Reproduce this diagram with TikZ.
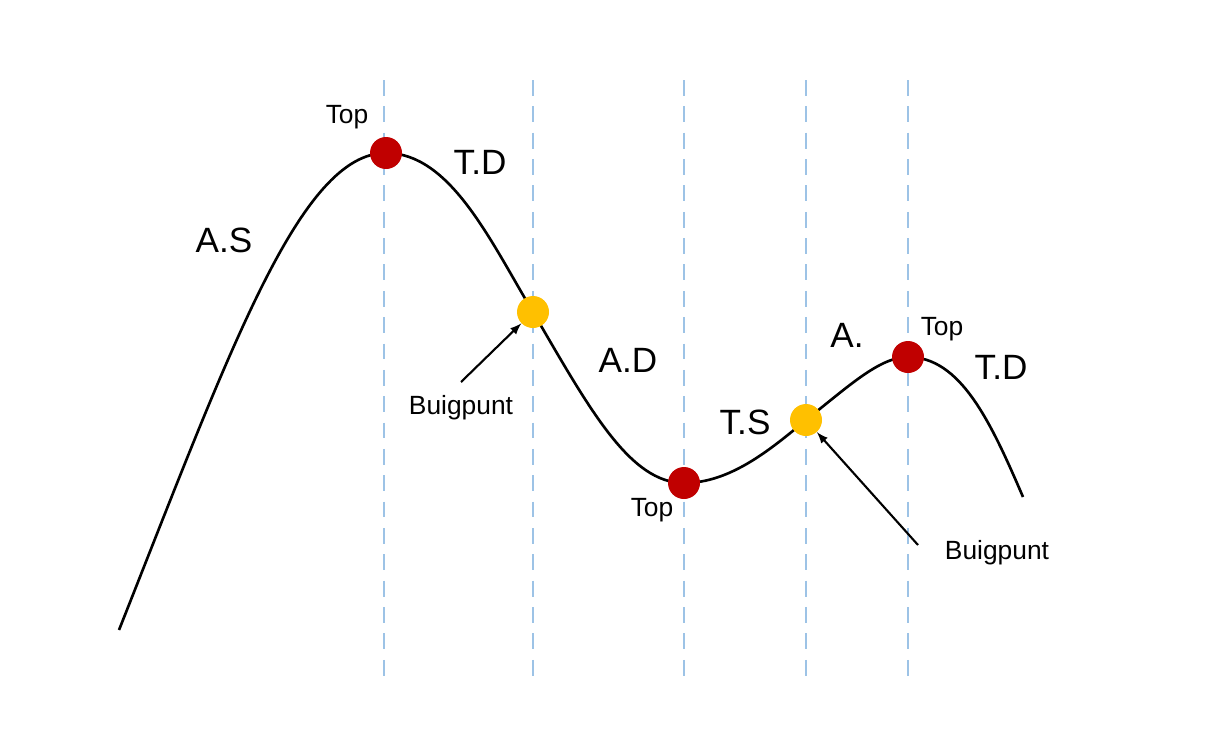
\documentclass[tikz,border=0pt]{standalone}
\usepackage{fontspec}
\setmainfont{Liberation Sans}
\definecolor{mydash}{RGB}{157, 195, 230}
\definecolor{myred}{RGB}{192, 0, 0}
\definecolor{myyellow}{RGB}{255, 192, 0}
\begin{document}
\begin{tikzpicture}[x=0.02cm, y=-0.02cm,
    big/.style={font=\fontsize{20}{24}\selectfont},
    small/.style={font=\fontsize{15}{18}\selectfont},
    dot/.style={circle, minimum size=0.64cm, inner sep=0pt}]
        \useasboundingbox (0,0) rectangle (1212,754);
        % Dashed guides
        \foreach \x in {384,533,684,806,908}
            \draw[mydash, line width=1.5pt, dash pattern=on 9pt off 6pt] (\x,80) -- (\x,680);
        
        % Curve
        \draw[line width=1.5pt] (119,630) .. controls (230,350) and (300,153) .. (386,153)
            .. controls (450,153) and (490,240) .. (533,312)
            .. controls (590,410) and (630,483) .. (684,483)
            .. controls (730,483) and (770,450) .. (806,420)
            .. controls (850,385) and (880,357) .. (908,357)
            .. controls (960,357) and (990,420) .. (1023,497);
        
        % Points
        \node[dot, fill=myred] (top1) at (386,153) {};
        \node[dot, fill=myyellow] (bp1) at (533,312) {};
        \node[dot, fill=myred] (top2) at (684,483) {};
        \node[dot, fill=myyellow] (bp2) at (806,420) {};
        \node[dot, fill=myred] (top3) at (908,357) {};
        
        % Labels
        \node[small] (ltop1) at (347,117) {Top};
        \node[big] (ltd1) at (480,162) {T.D};
        \node[big] (las) at (224,240) {A.S};
        \node[small] (lbp1) at (461,408) {Buigpunt};
        \node[big] (lad) at (628,360) {A.D};
        \node[small] (ltop2) at (652,510) {Top};
        \node[big] (lts) at (745,422) {T.S};
        \node[big] (la) at (847,335) {A.};
        \node[small] (ltop3) at (942,329) {Top};
        \node[big] (ltd2) at (1001,367) {T.D};
        \node[small] (lbp2) at (997,553) {Buigpunt};
        
        % Arrows
        \coordinate (a1) at (461,382);
        \coordinate (a2) at (918,545);
        \draw[-latex, line width=1.2pt] (a1) -- (bp1);
        \draw[-latex, line width=1.2pt] (a2) -- (bp2);
    \end{tikzpicture}
\end{document}
